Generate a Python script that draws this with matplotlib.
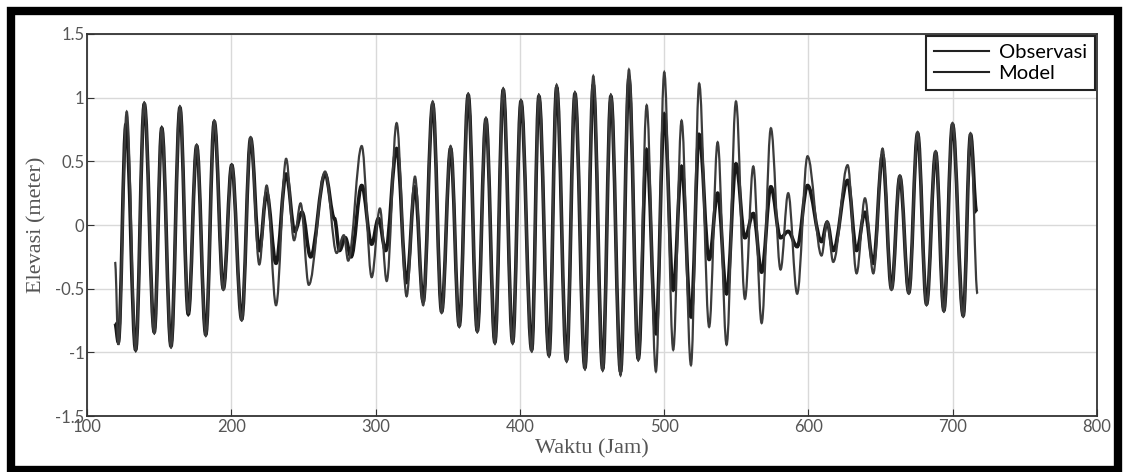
import numpy as np
import matplotlib.pyplot as plt
from matplotlib.path import Path
from matplotlib.patches import PathPatch, Rectangle
from matplotlib.lines import Line2D

# turning points (high / low water), hours and metres
obs_t = [119.4, 121.7, 127.0, 133.7, 139.7, 146.6, 151.8, 158.2, 164.4, 170.2,
         176.0, 182.3, 188.2, 194.5, 200.3, 207.2, 213.4, 219.4, 224.5, 231.0,
         238.0, 244.0, 249.0, 255.0, 265.0, 271.5, 275.0, 279.0, 283.0, 290.4,
         297.3, 302.0, 307.0, 314.6, 321.5, 327.3, 333.0, 339.6, 345.8, 352.0,
         358.0, 364.2, 370.5, 376.5, 382.7, 388.5, 395.0, 400.8, 408.2, 413.2,
         420.2, 425.5, 432.4, 438.2, 445.1, 450.9, 457.4, 463.1, 469.8, 475.6,
         482.1, 487.9, 494.3, 500.1, 506.3, 512.1, 518.6, 524.3, 531.2, 537.1,
         543.3, 549.8, 556.0, 561.8, 567.6, 574.0, 580.7, 586.0, 592.2, 599.4,
         609.1, 613.0, 617.2, 627.2, 633.4, 639.2, 645.0, 651.4, 657.6, 663.4,
         669.6, 675.7, 681.9, 688.2, 693.9, 699.9, 707.3, 712.4, 716.6]
obs_v = [-0.77, -0.92, 0.79, -0.98, 0.95, -0.84, 0.76, -0.95, 0.92, -0.70,
         0.62, -0.86, 0.81, -0.50, 0.47, -0.74, 0.68, -0.20, 0.25, -0.30,
         0.40, -0.05, 0.10, -0.25, 0.40, 0.05, -0.20, -0.10, -0.25, 0.31,
         -0.15, 0.05, -0.20, 0.60, -0.45, 0.30, -0.60, 0.95, -0.68, 0.60,
         -0.79, 1.02, -0.83, 0.83, -0.92, 1.06, -0.92, 0.97, -0.98, 1.01,
         -1.02, 1.08, -1.06, 1.03, -1.12, 1.10, -1.13, 1.01, -1.15, 1.15,
         -1.05, 0.59, -0.85, 0.87, -0.51, 0.46, -0.72, 0.71, -0.27, 0.25,
         -0.54, 0.48, -0.10, 0.09, -0.37, 0.30, -0.10, -0.05, -0.17, 0.31,
         -0.13, 0.02, -0.20, 0.35, -0.20, 0.10, -0.30, 0.55, -0.50, 0.38,
         -0.53, 0.72, -0.62, 0.57, -0.67, 0.79, -0.71, 0.71, 0.10]

mod_t = [119.4, 121.7, 127.5, 133.7, 139.7, 146.6, 151.8, 158.2, 164.4, 170.2,
         176.0, 182.3, 188.2, 194.5, 200.3, 207.2, 213.4, 219.4, 224.5, 231.0,
         238.0, 243.5, 248.0, 253.7, 265.0, 273.0, 278.0, 281.0, 290.4, 297.3,
         303.0, 307.7, 314.6, 321.5, 327.3, 333.0, 339.6, 345.8, 352.0, 358.0,
         364.2, 370.5, 376.5, 382.7, 388.5, 395.0, 400.8, 408.2, 413.2, 420.2,
         425.5, 432.4, 438.2, 445.1, 450.9, 457.4, 463.1, 469.8, 475.6, 482.1,
         487.9, 494.3, 500.1, 506.3, 512.1, 518.6, 524.3, 531.2, 537.1, 543.3,
         549.8, 556.0, 561.8, 567.6, 574.0, 580.7, 586.0, 592.2, 599.4, 609.1,
         613.0, 617.2, 627.2, 633.4, 639.2, 645.0, 651.4, 657.6, 663.4, 669.6,
         675.7, 681.9, 688.2, 693.9, 699.9, 707.3, 712.4, 717.2]
mod_v = [-0.29, -0.94, 0.89, -0.98, 0.96, -0.85, 0.76, -0.96, 0.93, -0.69,
         0.63, -0.87, 0.82, -0.51, 0.47, -0.75, 0.69, -0.31, 0.31, -0.63,
         0.52, -0.12, 0.17, -0.47, 0.42, -0.22, -0.08, -0.28, 0.62, -0.41,
         0.13, -0.44, 0.80, -0.56, 0.38, -0.63, 0.97, -0.69, 0.62, -0.80,
         1.03, -0.84, 0.84, -0.93, 1.07, -0.93, 0.98, -0.99, 1.02, -1.03,
         1.10, -1.07, 1.04, -1.13, 1.17, -1.14, 1.02, -1.18, 1.22, -1.06,
         0.94, -1.15, 1.20, -0.98, 0.82, -1.10, 1.11, -0.80, 0.65, -0.94,
         0.97, -0.58, 0.46, -0.77, 0.76, -0.35, 0.25, -0.54, 0.54, -0.24,
         0.03, -0.29, 0.47, -0.38, 0.21, -0.38, 0.60, -0.51, 0.39, -0.54,
         0.73, -0.63, 0.58, -0.68, 0.80, -0.72, 0.72, -0.54]

xticks = [100, 200, 300, 400, 500, 600, 700, 800]
yticks = [-1.5, -1, -0.5, 0, 0.5, 1, 1.5]
ytick_labels = ['-1.5', '-1', '-0.5', '0', '0.5', '1', '1.5']


# smooth tide curve through the turning points (flat tangent at each one)
def tide_path(t, v, k=0.364):
    verts = [(t[0], v[0])]
    codes = [Path.MOVETO]
    for i in range(1, len(t)):
        d = t[i] - t[i-1]
        verts += [(t[i-1] + k*d, v[i-1]), (t[i] - k*d, v[i]), (t[i], v[i])]
        codes += [Path.CURVE4]*3
    return Path(verts, codes)


fig = plt.figure(figsize=(11.23, 4.72), dpi=100)
ax = fig.add_axes([0.0775, 0.1186, 0.8993, 0.8094])

ax.add_patch(PathPatch(tide_path(obs_t, obs_v), fill=False, ec='#181818', lw=2.6, zorder=3))
ax.add_patch(PathPatch(tide_path(mod_t, mod_v), fill=False, ec='#3c3c3c', lw=1.6, zorder=4))

ax.set_xlim(100, 800)
ax.set_ylim(-1.5, 1.5)
ax.set_xticks(xticks)
ax.set_yticks(yticks)
ax.set_yticklabels(ytick_labels)
ax.grid(True, color='#d9d9d9', lw=1)
ax.set_axisbelow(True)
ax.tick_params(direction='in', length=5, colors='#333333', labelcolor='#555555',
               labelsize=12, pad=2)
for lab in ax.get_xticklabels() + ax.get_yticklabels():
    lab.set_family('Lato')
for s in ax.spines.values():
    s.set_color('#333333')
    s.set_linewidth(1.3)

ax.set_xlabel('Waktu (Jam)', family='Liberation Serif', fontsize=16, color='#555555', labelpad=3)
ax.set_ylabel('Elevasi (meter)', family='Liberation Serif', fontsize=16, color='#555555', labelpad=6)

handles = [Line2D([], [], color='#222222', lw=1.5), Line2D([], [], color='#222222', lw=1.5)]
leg = ax.legend(handles, ['Observasi', 'Model'], loc='upper right', fancybox=False,
                framealpha=1, edgecolor='#222222', prop={'family': 'Lato', 'size': 14.5},
                borderaxespad=0.1, handlelength=2.75, handletextpad=0.45,
                borderpad=0.41, labelspacing=0.16)
leg.get_frame().set_linewidth(1.5)

# thick black frame around the whole picture
fig.patches.append(Rectangle((0.0098, 0.0042), 0.9857, 0.9725, transform=fig.transFigure,
                             fill=False, ec='black', lw=6, zorder=10))

fig.savefig('out.png', dpi=100)
